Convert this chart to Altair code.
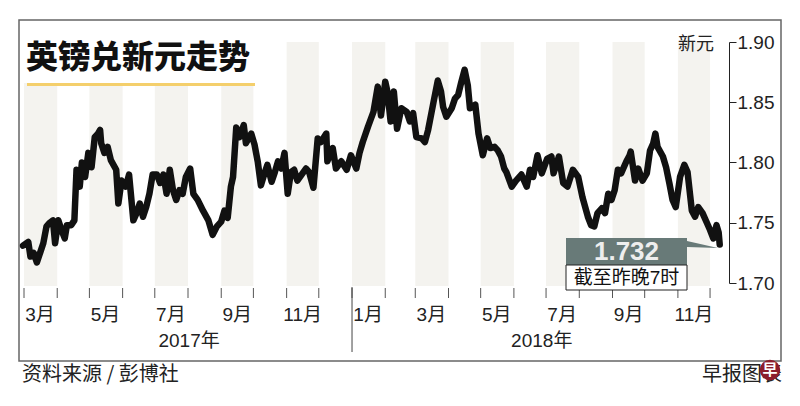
import altair as alt
import pandas as pd

# ---------------- data ----------------
dates = [
    "2017-02-28", "2017-03-05", "2017-03-07", "2017-03-10", "2017-03-13", "2017-03-16", "2017-03-19",
    "2017-03-22", "2017-03-25", "2017-03-28", "2017-03-30", "2017-04-02", "2017-04-05", "2017-04-08",
    "2017-04-10", "2017-04-14", "2017-04-17", "2017-04-19", "2017-04-22", "2017-04-24", "2017-04-27",
    "2017-04-30", "2017-05-03", "2017-05-06", "2017-05-09", "2017-05-11", "2017-05-12", "2017-05-15",
    "2017-05-18", "2017-05-21", "2017-05-26", "2017-05-28", "2017-05-31", "2017-06-04", "2017-06-07",
    "2017-06-11", "2017-06-14", "2017-06-17", "2017-06-20", "2017-06-23", "2017-06-26", "2017-06-29",
    "2017-07-03", "2017-07-06", "2017-07-09", "2017-07-12", "2017-07-15", "2017-07-18", "2017-07-21",
    "2017-07-24", "2017-07-27", "2017-07-30", "2017-08-03", "2017-08-06", "2017-08-10", "2017-08-15",
    "2017-08-20", "2017-08-24", "2017-08-28", "2017-09-01", "2017-09-04", "2017-09-07", "2017-09-10",
    "2017-09-12", "2017-09-15", "2017-09-18", "2017-09-22", "2017-09-24", "2017-09-29", "2017-10-02",
    "2017-10-05", "2017-10-08", "2017-10-11", "2017-10-14", "2017-10-18", "2017-10-21", "2017-10-24",
    "2017-10-27", "2017-10-30", "2017-11-02", "2017-11-05", "2017-11-08", "2017-11-11", "2017-11-15",
    "2017-11-19", "2017-11-22", "2017-11-26", "2017-11-30", "2017-12-03", "2017-12-08", "2017-12-09",
    "2017-12-14", "2017-12-17", "2017-12-22", "2017-12-27", "2017-12-31", "2018-01-05", "2018-01-08",
    "2018-01-11", "2018-01-16", "2018-01-21", "2018-01-25", "2018-01-28", "2018-02-01", "2018-02-03",
    "2018-02-06", "2018-02-09", "2018-02-12", "2018-02-16", "2018-02-21", "2018-02-24", "2018-02-27",
    "2018-03-02", "2018-03-07", "2018-03-10", "2018-03-13", "2018-03-18", "2018-03-22", "2018-03-25",
    "2018-03-27", "2018-03-30", "2018-04-04", "2018-04-07", "2018-04-10", "2018-04-13", "2018-04-16",
    "2018-04-19", "2018-04-21", "2018-04-26", "2018-04-29", "2018-05-03", "2018-05-07", "2018-05-10",
    "2018-05-14", "2018-05-17", "2018-05-20", "2018-05-23", "2018-05-25", "2018-05-30", "2018-06-03",
    "2018-06-08", "2018-06-13", "2018-06-16", "2018-06-19", "2018-06-23", "2018-06-27", "2018-07-02",
    "2018-07-06", "2018-07-08", "2018-07-13", "2018-07-17", "2018-07-21", "2018-07-26", "2018-07-31",
    "2018-08-04", "2018-08-09", "2018-08-12", "2018-08-15", "2018-08-18", "2018-08-22", "2018-08-25",
    "2018-08-28", "2018-08-31", "2018-09-03", "2018-09-06", "2018-09-09", "2018-09-14", "2018-09-17",
    "2018-09-18", "2018-09-22", "2018-09-25", "2018-09-29", "2018-10-03", "2018-10-06", "2018-10-09",
    "2018-10-11", "2018-10-13", "2018-10-18", "2018-10-21", "2018-10-24", "2018-10-27", "2018-10-30",
    "2018-11-03", "2018-11-07", "2018-11-10", "2018-11-14", "2018-11-17", "2018-11-20", "2018-11-24",
    "2018-11-28", "2018-12-01", "2018-12-04", "2018-12-07", "2018-12-09", "2018-12-10",
]
values = [
    1.731, 1.734, 1.722, 1.725, 1.717, 1.725, 1.733,
    1.747, 1.750, 1.752, 1.733, 1.752, 1.744, 1.737,
    1.748, 1.748, 1.752, 1.794, 1.780, 1.800, 1.788,
    1.808, 1.796, 1.821, 1.824, 1.827, 1.816, 1.808,
    1.813, 1.802, 1.794, 1.766, 1.785, 1.780, 1.790,
    1.752, 1.758, 1.766, 1.755, 1.763, 1.774, 1.790,
    1.790, 1.783, 1.790, 1.774, 1.794, 1.777, 1.769,
    1.777, 1.774, 1.788, 1.795, 1.774, 1.769, 1.760,
    1.752, 1.740, 1.747, 1.751, 1.760, 1.754, 1.780,
    1.788, 1.829, 1.821, 1.831, 1.816, 1.824, 1.815,
    1.801, 1.781, 1.790, 1.798, 1.784, 1.792, 1.801,
    1.795, 1.808, 1.774, 1.792, 1.794, 1.785, 1.790,
    1.795, 1.792, 1.779, 1.820, 1.817, 1.824, 1.801,
    1.812, 1.795, 1.801, 1.794, 1.806, 1.795, 1.808,
    1.817, 1.830, 1.842, 1.863, 1.839, 1.867, 1.859,
    1.834, 1.859, 1.828, 1.845, 1.842, 1.834, 1.841,
    1.821, 1.820, 1.817, 1.827, 1.850, 1.868, 1.859,
    1.846, 1.838, 1.845, 1.853, 1.856, 1.867, 1.877,
    1.864, 1.845, 1.848, 1.824, 1.806, 1.820, 1.812,
    1.813, 1.810, 1.805, 1.795, 1.792, 1.780, 1.785,
    1.790, 1.780, 1.794, 1.788, 1.806, 1.791, 1.803,
    1.805, 1.791, 1.805, 1.783, 1.780, 1.794, 1.788,
    1.771, 1.755, 1.748, 1.747, 1.758, 1.762, 1.758,
    1.774, 1.769, 1.777, 1.794, 1.791, 1.801, 1.806,
    1.809, 1.785, 1.795, 1.785, 1.791, 1.810, 1.816,
    1.824, 1.813, 1.805, 1.796, 1.783, 1.769, 1.763,
    1.788, 1.798, 1.792, 1.760, 1.755, 1.763, 1.758,
    1.750, 1.744, 1.737, 1.748, 1.742, 1.732,
]

month_starts = [
    "2017-03-01", "2017-04-01", "2017-05-01", "2017-06-01", "2017-07-01", "2017-08-01",
    "2017-09-01", "2017-10-01", "2017-11-01", "2017-12-01", "2018-01-01", "2018-02-01",
    "2018-03-01", "2018-04-01", "2018-05-01", "2018-06-01", "2018-07-01", "2018-08-01",
    "2018-09-01", "2018-10-01", "2018-11-01", "2018-12-01",
]
band_starts = ["2017-03-01", "2017-05-01", "2017-07-01", "2017-09-01", "2017-11-01", "2018-01-01",
               "2018-03-01", "2018-05-01", "2018-07-01", "2018-09-01", "2018-11-01"]
band_ends = ["2017-04-01", "2017-06-01", "2017-08-01", "2017-10-01", "2017-12-01", "2018-02-01",
             "2018-04-01", "2018-06-01", "2018-08-01", "2018-10-01", "2018-12-01"]
month_labels = ["3月", "5月", "7月", "9月", "11月", "1月", "3月", "5月", "7月", "9月", "11月"]
month_label_dates = ["2017-03-16", "2017-05-16", "2017-07-16", "2017-09-16", "2017-11-16", "2018-01-16",
                     "2018-03-16", "2018-05-16", "2018-07-16", "2018-09-16", "2018-11-16"]
year_labels = ["2017年", "2018年"]
year_label_dates = ["2017-08-02", "2018-06-27"]
year_divider = ["2018-01-01"]
y_ticks = [1.70, 1.75, 1.80, 1.85, 1.90]

title_text = "英镑兑新元走势"
unit_text = "新元"
last_text = "1.732"
note_text = "截至昨晚7时"
source_text = "资料来源 / 彭博社"
brand_text = "早报图表"

# ---------------- chart ----------------
W, H = 710, 241
LAT = "Liberation Sans, Noto Sans CJK SC, sans-serif"
CJK = "Noto Sans CJK SC, sans-serif"
INK = "#222222"

xscale = alt.Scale(domain=[alt.DateTime(year=2017, month=2, date=24, hours=8),
                           alt.DateTime(year=2018, month=12, date=18, hours=16)])
yscale = alt.Scale(domain=[1.70, 1.90], nice=False, zero=False)

line_df = pd.DataFrame({"date": dates, "value": values})
band_df = pd.DataFrame({"start": band_starts, "end": band_ends})
tick_df = pd.DataFrame({"date": month_starts})
mlab_df = pd.DataFrame({"date": month_label_dates, "label": month_labels})
ylab_df = pd.DataFrame({"date": year_label_dates, "label": year_labels})
div_df = pd.DataFrame({"date": year_divider})
one = pd.DataFrame({"k": [0]})

bands = alt.Chart(band_df).mark_rect(color="#f4f3ef").encode(
    x=alt.X("start:T", scale=xscale, axis=None),
    x2="end:T",
    y=alt.value(0),
    y2=alt.value(H + 3),
)

title_bg = alt.Chart(one).mark_rect(color="white").encode(
    x=alt.value(0), x2=alt.value(241), y=alt.value(-22), y2=alt.value(41)
)
title_bar = alt.Chart(one).mark_rect(color="#f4cf6c").encode(
    x=alt.value(8), x2=alt.value(236), y=alt.value(41), y2=alt.value(44)
)
title = alt.Chart(one).mark_text(
    align="left", baseline="middle", font=CJK, fontSize=32, fontWeight=900, color="#111111"
).encode(x=alt.value(7), y=alt.value(16), text=alt.value(title_text))

line = alt.Chart(line_df).mark_line(
    color="#111111", strokeWidth=6.5, strokeJoin="round", strokeCap="round"
).encode(
    x=alt.X("date:T", scale=xscale, axis=None),
    y=alt.Y("value:Q", scale=yscale, axis=alt.Axis(
        orient="right", values=y_ticks, format=".2f", title=None, grid=False,
        domain=True, domainColor=INK, domainWidth=1,
        ticks=True, tickSize=7, tickColor=INK, tickWidth=1,
        labelFont="Liberation Sans", labelFontSize=19, labelColor=INK, labelPadding=1,
    )),
)

ticks = alt.Chart(tick_df).mark_rule(color="#555555", strokeWidth=1).encode(
    x=alt.X("date:T", scale=xscale, axis=None), y=alt.value(H + 5), y2=alt.value(H + 15)
)
divider = alt.Chart(div_df).mark_rule(color="#444444", strokeWidth=1).encode(
    x=alt.X("date:T", scale=xscale, axis=None), y=alt.value(H + 4), y2=alt.value(H + 69)
)
mlabels = alt.Chart(mlab_df).mark_text(
    font=LAT, fontSize=19, color=INK, baseline="middle", align="center"
).encode(x=alt.X("date:T", scale=xscale, axis=None), y=alt.value(H + 32), text="label:N")
ylabels = alt.Chart(ylab_df).mark_text(
    font=LAT, fontSize=19, color=INK, baseline="middle", align="center"
).encode(x=alt.X("date:T", scale=xscale, axis=None), y=alt.value(H + 58), text="label:N")

unit = alt.Chart(one).mark_text(
    font=CJK, fontSize=18, color=INK, baseline="middle", align="center"
).encode(x=alt.value(677), y=alt.value(3), text=alt.value(unit_text))

# annotation
ann_box = alt.Chart(one).mark_rect(color="#687a78").encode(
    x=alt.value(547), x2=alt.value(668), y=alt.value(196), y2=alt.value(223)
)
ann_wedge = alt.Chart(one).mark_point(
    shape="M-1,-0.2L1,0.26L-1,0.2Z", filled=True, size=961, color="#687a78", opacity=1
).encode(x=alt.value(683.5), y=alt.value(202))
ann_val = alt.Chart(one).mark_text(
    font="Liberation Sans", fontSize=26, fontWeight="bold", color="#eeeeee", baseline="middle", align="center"
).encode(x=alt.value(607.5), y=alt.value(210), text=alt.value(last_text))
note_box = alt.Chart(one).mark_rect(fill="white", stroke="#222222", strokeWidth=1).encode(
    x=alt.value(547), x2=alt.value(668), y=alt.value(223), y2=alt.value(248)
)
note = alt.Chart(one).mark_text(
    font=LAT, fontSize=19, color="#111111", baseline="middle", align="center"
).encode(x=alt.value(607.5), y=alt.value(236), text=alt.value(note_text))

frame = alt.Chart(one).mark_rect(fillOpacity=0, stroke="#666666", strokeWidth=1.5).encode(
    x=alt.value(0), x2=alt.value(762), y=alt.value(-22), y2=alt.value(319)
)

source = alt.Chart(one).mark_text(
    font=CJK, fontSize=20, color=INK, baseline="middle", align="left"
).encode(x=alt.value(3), y=alt.value(333), text=alt.value(source_text))
brand = alt.Chart(one).mark_text(
    font=CJK, fontSize=20, color=INK, baseline="middle", align="right"
).encode(x=alt.value(763), y=alt.value(333), text=alt.value(brand_text))
logo = alt.Chart(one).mark_circle(color="#8c1d2c", size=420, opacity=1).encode(
    x=alt.value(751), y=alt.value(328)
)
logo_txt = alt.Chart(one).mark_text(
    font=CJK, fontSize=15, fontWeight="bold", color="white", baseline="middle", align="center"
).encode(x=alt.value(751), y=alt.value(328), text=alt.value("早"))

chart = alt.layer(
    bands, title_bg, title_bar, title, line, ticks, divider, mlabels, ylabels, unit,
    ann_wedge, ann_box, ann_val, note_box, note, frame, source, brand, logo, logo_txt,
).properties(
    width=W, height=H,
    padding={"left": 11, "top": 34, "right": 63, "bottom": 115},
    autosize=alt.AutoSizeParams(type="none"),
    background="white",
).configure_view(stroke=None)

chart.save("out.html", embed_options={"renderer": "svg", "actions": False})
